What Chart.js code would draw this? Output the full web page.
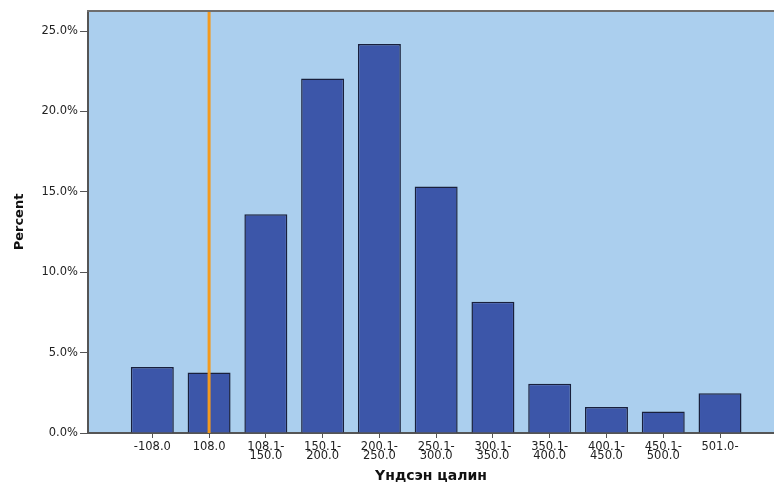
<!DOCTYPE html>
<html>
<head>
<meta charset="utf-8">
<script src="https://cdn.jsdelivr.net/npm/chart.js@4"></script>
<style>
  html, body { margin: 0; padding: 0; background: #ffffff; }
  #wrap { width: 774px; height: 487px; position: relative; }
</style>
</head>
<body>
<div id="wrap"><canvas id="c" width="774" height="487"></canvas></div>
<script>
// ---- data ----
const categories = ['-108.0', '108.0', '108.1-150.0', '150.1-200.0', '200.1-250.0', '250.1-300.0', '300.1-350.0', '350.1-400.0', '400.1-450.0', '450.1-500.0', '501.0-'];
const tickLabels = [['-108.0'], ['108.0'], ['108.1-', '150.0'], ['150.1-', '200.0'], ['200.1-', '250.0'], ['250.1-', '300.0'], ['300.1-', '350.0'], ['350.1-', '400.0'], ['400.1-', '450.0'], ['450.1-', '500.0'], ['501.0-']];
const percents = [4.11, 3.76, 13.6, 22.05, 24.19, 15.34, 8.17, 3.07, 1.62, 1.33, 2.47];
const yTicks = [0, 5, 10, 15, 20, 25];
const yMax = 26.25;
const markerCategory = '108.0';
const xTitle = 'Үндсэн цалин';
const yTitle = 'Percent';

const markerIndex = categories.indexOf(markerCategory);

const plotBg = {
  id: 'plotBg',
  beforeDraw(chart) {
    const { ctx, chartArea: a } = chart;
    ctx.save();
    ctx.fillStyle = '#abcfee';
    ctx.fillRect(a.left, a.top, a.right - a.left, a.bottom - a.top);
    ctx.restore();
  },
  afterDraw(chart) {
    const { ctx, chartArea: a } = chart;
    ctx.save();
    ctx.strokeStyle = '#6e6e6e';
    ctx.lineWidth = 2;
    ctx.beginPath();
    ctx.moveTo(a.left - 1, a.top);
    ctx.lineTo(a.right, a.top);
    ctx.stroke();
    ctx.restore();
  }
};

const fontFam = '"DejaVu Sans", Verdana, sans-serif';

new Chart(document.getElementById('c'), {
  type: 'bar',
  data: {
    datasets: [
      {
        type: 'line',
        data: [{ x: markerIndex, y: 0 }, { x: markerIndex, y: yMax }],
        borderColor: '#f39a1e',
        borderWidth: 3,
        pointRadius: 0,
        fill: false,
        order: 0
      },
      {
        type: 'bar',
        data: percents.map((v, i) => ({ x: i, y: v })),
        backgroundColor: '#3c56a9',
        borderColor: '#19203c',
        borderWidth: 1.5,
        borderSkipped: 'bottom',
        barPercentage: 0.757,
        categoryPercentage: 1,
        order: 1
      }
    ]
  },
  options: {
    responsive: false,
    animation: false,
    layout: { padding: { top: 11, right: 0, left: 0, bottom: 0 } },
    plugins: { legend: { display: false }, tooltip: { enabled: false } },
    scales: {
      x: {
        type: 'linear',
        offset: false,
        min: -1.133,
        max: 10.951,
        afterFit(s) { s.height = 54; },
        afterBuildTicks(s) { s.ticks = categories.map((_, i) => ({ value: i })); },
        grid: { display: true, drawOnChartArea: false, drawTicks: true, tickLength: 5, color: '#555555', offset: false },
        border: { display: true, color: '#555555', width: 2 },
        ticks: {
          autoSkip: false,
          maxRotation: 0,
          padding: 4,
          color: '#222222',
          font: { family: fontFam, size: 11.5, lineHeight: 0.82 },
          callback: (v) => tickLabels[v]
        },
        title: {
          display: true,
          text: xTitle,
          color: '#111111',
          font: { family: fontFam, size: 14, weight: 'bold', lineHeight: 1.2 },
          padding: { top: 0, bottom: 2 }
        }
      },
      y: {
        min: 0,
        max: yMax,
        afterFit(s) { s.width = 88; },
        afterBuildTicks(s) { s.ticks = yTicks.map(v => ({ value: v })); },
        grid: { display: true, drawOnChartArea: false, drawTicks: true, tickLength: 8, color: '#555555' },
        border: { display: true, color: '#555555', width: 2 },
        ticks: {
          padding: 2,
          color: '#222222',
          font: { family: fontFam, size: 11.5 },
          callback: (v) => v.toFixed(1) + '%'
        },
        title: {
          display: true,
          text: yTitle,
          color: '#111111',
          font: { family: fontFam, size: 13, weight: 'bold', lineHeight: 1.2 },
          padding: { top: 12, bottom: 0 }
        }
      }
    }
  },
  plugins: [plotBg]
});
</script>
</body>
</html>
